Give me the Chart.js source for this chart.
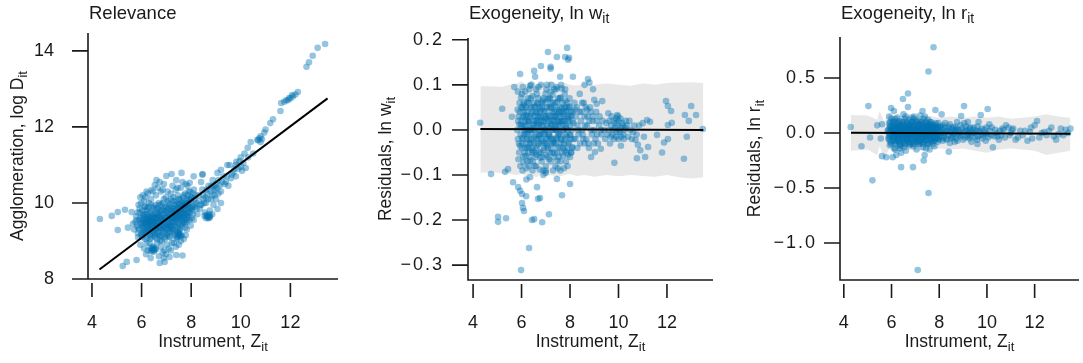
<!DOCTYPE html>
<html>
<head>
<meta charset="utf-8">
<script src="https://cdn.jsdelivr.net/npm/chart.js@4.4.1/dist/chart.umd.min.js"></script>
<style>
  html, body { margin: 0; padding: 0; background: #fff; }
  #wrap { position: relative; width: 1083px; height: 363px; overflow: hidden; }
  canvas { position: absolute; top: 0; }
</style>
</head>
<body>
<div id="wrap">
  <canvas id="c1" width="361" height="363" style="left:0px"></canvas>
  <canvas id="c2" width="361" height="363" style="left:361px"></canvas>
  <canvas id="c3" width="361" height="363" style="left:722px"></canvas>
</div>
<script>
// ---- tick labels ----
const xTicks = [4, 6, 8, 10, 12];
const relevanceTicks = [8, 10, 12, 14];
const wTicks = [-0.3, -0.2, -0.1, 0, 0.1, 0.2];
const rTicks = [-1, -0.5, 0, 0.5];

// ---- panel 1: instrument vs log agglomeration ----
const relevancePoints = [
  [4.32,9.58],[4.8,9.66],[5.04,9.76],[5.33,9.82],[5.6,9.76],[5.04,9.29],[5.24,8.34],[5.4,8.45],[5.8,8.5],
  [6.37,8.55],[6.73,8.42],[6.93,8.45],[7.13,8.58],[7.4,8.63],[7.65,8.62],[5.45,9.35],[5.65,9.45],
  [7.61,10.79],[7.21,10.76],[7.0,10.71],[6.73,10.55],[6.53,10.47],[6.4,10.34],[7.94,10.53],[8.46,10.76],
  [9.06,10.79],[9.46,11.0],[9.82,11.08],[6.2,10.3],[6.9,10.5],[7.4,10.6],[6.6,10.6],[8.1,10.7],
  [9.06,9.84],[8.54,9.66],[8.42,9.95],[8.7,9.65],[8.85,9.7],[8.6,9.6],[8.75,9.8],
  [8.45,10.74],[8.87,10.6],[9.2,10.87],[9.55,11.0],[9.8,11.0],[9.95,11.1],[10.0,11.2],[10.15,11.3],
  [10.28,11.45],[10.4,11.6],[10.67,11.66],[10.75,11.7],[10.8,11.6],[10.95,11.85],[11.0,11.93],[11.19,12.1],
  [11.3,12.2],[11.6,12.42],[11.63,12.63],[11.75,12.66],[11.83,12.7],[11.95,12.76],[12.07,12.84],[12.3,12.92],
  [12.65,13.58],[12.75,13.7],[12.9,13.87],[13.1,14.08],[13.4,14.18],[10.2,10.92],[10.1,11.05],[10.3,11.2],
  [10.5,11.3],[10.0,10.95],[9.9,10.9],[10.8,11.75],[10.7,11.65],[10.85,11.68],[12.1,12.8],[12.0,12.75],
  [12.2,12.85],[11.9,12.7],[9.7,10.8],[9.3,10.7],[9.0,10.5],[9.2,10.3],[9.1,10.25],[8.9,10.35],[8.95,10.2],
  [9.4,10.55],[9.6,10.65],[9.5,10.45],[9.8,10.7],[10.05,10.85],
  [8.3,10.2],[8.35,9.85],[8.5,10.1],[8.6,10.0],[8.65,10.25],[8.7,10.45],[8.8,10.1],[8.9,9.95],[9.0,10.1],
  [9.2,10.0],[8.55,9.75],[8.75,9.62],[8.45,10.35],[8.4,10.55],[8.2,10.0],[8.25,9.7],
  [5.85,9.2],[5.9,9.55],[5.88,9.95],[5.95,8.9],
  [6.02,9.1],[6.05,9.35],[6.0,9.5],[6.08,9.65],[6.03,9.8],[6.1,10.05],[6.07,9.25],[6.12,9.45],
  [6.18,8.65],[6.2,8.95],[6.22,9.2],[6.25,9.35],[6.17,9.5],[6.28,9.6],[6.2,9.7],[6.24,9.85],[6.3,10.0],
  [6.15,10.15],[6.26,9.42],[6.3,9.55],
  [6.38,8.75],[6.42,8.85],[6.35,9.05],[6.45,9.2],[6.4,9.35],[6.48,9.45],[6.36,9.55],[6.44,9.65],[6.4,9.78],
  [6.5,9.9],[6.38,10.1],[6.46,9.5],[6.52,9.3],
  [6.58,8.78],[6.62,8.95],[6.55,9.1],[6.65,9.25],[6.6,9.4],[6.68,9.5],[6.56,9.6],[6.64,9.7],[6.6,9.85],
  [6.7,10.0],[6.58,10.2],[6.66,9.55],[6.72,9.15],
  [6.78,8.85],[6.82,9.0],[6.75,9.12],[6.85,9.3],[6.8,9.45],[6.88,9.55],[6.76,9.65],[6.84,9.8],[6.8,9.95],
  [6.9,10.1],[6.78,10.3],[6.86,9.4],[6.92,8.75],
  [6.98,8.65],[7.02,8.9],[6.95,9.05],[7.05,9.2],[7.0,9.35],[7.08,9.5],[6.96,9.6],[7.04,9.72],[7.0,9.88],
  [7.1,10.0],[6.98,10.15],[7.06,9.42],[7.12,9.12],
  [7.18,8.75],[7.22,8.95],[7.15,9.1],[7.25,9.25],[7.2,9.4],[7.28,9.55],[7.16,9.65],[7.24,9.78],[7.2,9.9],
  [7.3,10.05],[7.18,10.25],[7.26,9.6],[7.32,9.2],
  [7.38,8.85],[7.42,9.05],[7.35,9.15],[7.45,9.35],[7.4,9.5],[7.48,9.62],[7.36,9.72],[7.44,9.85],[7.4,9.98],
  [7.5,10.1],[7.38,10.35],[7.46,9.7],[7.52,9.15],
  [7.58,9.0],[7.62,9.15],[7.55,9.3],[7.65,9.45],[7.6,9.6],[7.68,9.7],[7.56,9.8],[7.64,9.9],[7.6,10.05],
  [7.7,10.2],[7.58,10.4],[7.66,9.75],
  [7.78,9.15],[7.82,9.3],[7.75,9.45],[7.85,9.6],[7.8,9.72],[7.88,9.85],[7.76,9.95],[7.84,10.1],[7.9,10.3],
  [7.78,10.5],[7.98,9.4],[8.02,9.6],[7.95,9.75],[8.05,9.9],[8.0,10.05],[8.08,10.25],[8.1,9.55],
  [5.7,9.3],[5.75,9.5],[5.78,9.65],[5.82,9.4],[5.86,9.1],[5.9,9.3],[5.93,9.75],[5.96,9.45],[5.98,10.0],[6.0,9.2],
  [6.04,9.6],[6.06,9.4],[6.09,9.55],[6.11,9.3],[6.13,9.7],[6.14,9.9],[6.16,9.35],[6.19,9.45],[6.21,9.58],[6.23,9.52],
  [6.27,9.3],[6.29,9.48],[6.31,9.4],[6.33,9.62],[6.34,9.5],[6.37,9.38],[6.39,9.6],[6.41,9.45],[6.43,9.55],[6.46,9.4],
  [6.49,9.62],[6.51,9.52],[6.53,9.45],[6.54,9.7],[6.57,9.35],[6.59,9.5],[6.61,9.62],[6.63,9.42],[6.67,9.35],[6.69,9.68],
  [6.71,9.5],[6.73,9.38],[6.74,9.8],[6.77,9.55],[6.79,9.3],[6.81,9.6],[6.83,9.7],[6.87,9.5],[6.89,9.25],[6.91,9.85],
  [6.94,9.6],[6.97,9.45],[6.99,9.75],[7.01,9.55],[7.03,9.3],[7.06,9.65],[7.09,9.85],[7.11,9.45],[7.13,9.7],[7.14,9.25],
  [7.17,9.55],[7.19,9.8],[7.21,9.62],[7.23,9.35],[7.27,9.72],[7.29,9.85],[7.31,9.5],[7.33,9.65],[7.34,9.95],[7.37,9.58],
  [7.39,9.8],[7.41,9.68],[7.43,9.9],[7.47,9.55],[7.49,9.75],[7.51,9.85],[7.53,9.62],[7.54,9.95],[7.57,9.7],[7.59,9.85],
  [7.61,9.75],[7.63,9.55],[7.67,9.95],[7.69,9.8],[7.71,9.9],[7.73,9.62],[7.74,10.0],[7.77,9.82],[7.79,9.55],[7.81,9.95],
  [7.83,9.68],[7.87,10.0],[7.89,9.75],[7.91,9.9],[7.93,10.1],[7.97,9.85],[7.99,10.15],[8.04,9.8],[8.12,10.1],[8.15,9.9],
  [6.45,8.78],[6.5,8.72],[6.55,8.8],[6.48,8.85],[7.45,9.12],[7.5,9.2],[7.55,9.15],[7.48,9.25],[8.62,9.68],[8.68,9.62],
  [8.72,9.7],[8.3,10.05],[8.38,9.95],[8.48,10.2],[8.52,10.0],[8.58,10.15],[8.63,10.35],[8.68,10.1],[8.78,10.3],[8.82,10.45],
  [8.86,10.2],[8.92,10.45],[8.98,10.35],[9.05,10.4],[9.1,10.6],[9.15,10.45],[9.25,10.55],[9.35,10.5],[9.45,10.7],[9.65,10.75],
  [9.75,10.9],[6.1,8.8],[6.25,8.75],[6.32,8.95],[6.7,8.6],[6.85,8.7],[7.1,8.8],[7.3,8.95],[7.5,8.9],[7.7,9.05],[6.9,8.55],
  [6.05,10.2],[6.25,10.25],[6.45,10.3],[6.65,10.4],[6.85,10.35],[7.05,10.3],[7.25,10.45],[7.45,10.4],[7.65,10.55],[7.85,10.45],
  [5.95,10.15],[6.15,9.05],[6.35,9.15],[6.55,9.2],[6.75,9.0],[6.95,9.2],[7.15,9.3],[7.35,9.4],[7.55,9.45],[7.75,9.35],
  [5.8,9.55],[5.84,9.75],[5.87,9.35],[5.92,9.85],[5.95,9.6],[5.99,9.15],[6.03,9.45],[6.06,9.7],[6.1,9.2],[6.12,9.9],
  [6.15,9.55],[6.18,9.25],[6.2,9.8],[6.23,9.1],[6.26,9.65],[6.28,9.9],[6.31,9.25],[6.33,9.75],[6.36,9.3],[6.38,9.95],
  [6.41,9.1],[6.43,9.7],[6.46,9.25],[6.48,9.85],[6.51,9.15],[6.53,9.6],[6.56,9.95],[6.58,9.3],[6.61,9.75],[6.63,9.05],
  [6.66,9.85],[6.68,9.2],[6.71,9.65],[6.73,9.95],[6.76,9.35],[6.78,9.8],[6.81,9.15],[6.83,9.55],[6.86,10.0],[6.88,9.35],
  [6.91,9.7],[6.93,9.1],[6.96,9.9],[6.98,9.4],[7.01,9.8],[7.03,9.15],[7.06,10.05],[7.08,9.35],[7.11,9.6],[7.13,9.95],
  [7.16,9.4],[7.18,10.1],[7.21,9.5],[7.23,9.85],[7.26,9.3],[7.28,10.15],[7.31,9.7],[7.33,9.4],[7.36,10.05],[7.38,9.6],
  [7.41,9.25],[7.43,9.75],[7.46,10.2],[7.48,9.45],[7.51,9.95],[7.53,9.3],[7.56,10.1],[7.58,9.65],[7.61,9.4],[7.63,10.0],
  [7.66,9.6],[7.68,10.15],[7.71,9.5],[7.73,9.85],[7.76,10.25],[7.78,9.7],[7.81,10.05],[7.83,9.5],[7.86,10.2],[7.88,9.65],
  [7.91,10.0],[7.93,9.55],[7.96,10.3],[8.0,9.85],[8.03,10.15],[8.07,9.7],[8.11,10.35],[8.14,9.95],[8.18,10.2],[8.22,9.85],
  [6.42,8.72],[6.52,8.76],[6.47,8.8],[7.42,9.1],[7.52,9.18],[7.58,9.12],[8.64,9.65],[8.7,9.6],[8.76,9.66],[6.35,8.8]
];
const relevanceFit = [[4.3,8.25],[13.5,12.75]];

// ---- panel 2: residuals ln w ----
const wPoints = [
  [4.29,0.016],[7.88,0.182],[7.09,0.173],[7.46,0.162],[7.8,0.162],[7.96,0.16],[7.92,0.156],[6.8,0.142],
  [7.2,0.14],[7.2,0.136],[6.52,0.131],[5.94,0.124],[6.56,0.118],[7.59,0.118],[8.12,0.118],
  [4.74,-0.098],[5.32,-0.093],[5.44,-0.087],[5.65,-0.116],[5.86,-0.127],[5.94,-0.135],[6.02,-0.142],
  [6.19,-0.147],[6.02,-0.162],[6.06,-0.173],[6.1,-0.18],[6.76,-0.151],[6.68,-0.153],[7.13,-0.187],
  [5.03,-0.193],[5.03,-0.204],[5.36,-0.196],[6.43,-0.2],[6.52,-0.198],[6.85,-0.205],[6.31,-0.262],
  [5.98,-0.311],[7.67,-0.145],[8.0,-0.12],[7.46,-0.109],[6.64,-0.127],[5.2,0.047],[5.6,0.029],
  [5.7,0.095],[5.85,0.085],[6.2,-0.11],[6.35,-0.105],[6.9,-0.1],[7.0,-0.09],[7.6,-0.09],[7.75,-0.085],
  [8.0,-0.06],[8.05,-0.05],
  [8.74,0.113],[11.96,0.064],[12.04,0.053],[12.17,0.042],[13.0,0.053],[12.74,0.033],[12.9,0.02],
  [13.2,0.033],[13.48,0.002],[12.82,-0.015],[12.7,-0.064],[11.8,-0.05],[11.88,-0.028],[12.04,-0.02],
  [12.2,0.016],[12.04,0.011],[11.59,-0.011],[11.3,0.018],[11.18,0.022],[11.0,0.015],[11.22,-0.038],
  [11.1,-0.06],[10.76,-0.063],[10.9,-0.045],[10.8,-0.033],[10.7,-0.022],[11.05,-0.015],[9.83,-0.073],
  [9.27,-0.042],[8.87,-0.06],[9.03,-0.049],[9.95,0.033],[9.58,0.037],[9.33,0.064],[9.0,0.067],[9.1,0.058],
  [8.6,0.1],[8.8,0.105],[8.95,0.09],[8.4,0.08],
  [8.25,0.03],[8.3,0.01],[8.35,-0.01],[8.4,0.04],[8.45,0.02],[8.5,0.0],[8.55,-0.02],[8.6,0.03],[8.65,0.05],
  [8.7,0.01],[8.75,-0.03],[8.8,0.02],[8.85,0.04],[8.9,-0.01],[8.95,0.03],[9.0,0.0],[9.05,-0.02],[9.1,0.02],
  [9.2,0.01],[9.3,-0.01],[9.4,0.0],[8.5,0.06],[8.3,-0.04],[8.6,-0.03],[8.7,0.045],[9.15,-0.03],[9.5,0.015],
  [9.6,0.0],[9.7,0.01],[9.75,-0.01],[9.8,0.02],[9.85,0.005],[9.9,-0.015],[9.95,0.01],[10.0,0.02],
  [10.05,-0.005],[10.1,0.005],[10.15,0.015],[10.2,-0.01],[10.25,0.0],[10.3,0.02],[9.9,0.025],[10.0,-0.02],
  [10.4,-0.015],[10.5,0.0],[10.6,-0.005],[10.85,0.01],[9.65,-0.03],[10.1,-0.035],
  [5.82,0.0],[5.85,-0.02],[5.88,0.03],[5.9,-0.05],[5.92,0.06],[5.95,-0.08],[5.97,0.01],
  [6.0,0.02],[6.03,-0.03],[6.05,0.05],[6.07,-0.06],[6.1,0.0],[6.02,0.08],[6.12,-0.01],[6.08,0.04],
  [6.15,-0.04],[6.04,-0.09],
  [6.2,0.01],[6.22,-0.02],[6.25,0.03],[6.27,-0.05],[6.3,0.06],[6.23,-0.07],[6.28,0.0],[6.32,0.09],
  [6.18,0.05],[6.35,-0.03],[6.26,0.02],
  [6.4,0.0],[6.42,-0.04],[6.45,0.04],[6.38,0.07],[6.47,-0.07],[6.5,0.02],[6.43,-0.01],[6.52,-0.05],
  [6.4,0.1],[6.55,0.05],[6.48,0.0],
  [6.6,-0.02],[6.62,0.01],[6.65,0.06],[6.58,-0.06],[6.67,0.03],[6.7,-0.03],[6.63,0.08],[6.72,0.0],
  [6.6,-0.08],[6.75,0.05],[6.68,-0.01],
  [6.8,0.02],[6.82,-0.02],[6.85,0.05],[6.78,-0.05],[6.87,0.0],[6.9,0.07],[6.83,-0.07],[6.92,0.03],
  [6.8,0.1],[6.95,-0.03],[6.88,0.01],
  [7.0,0.0],[7.02,0.03],[7.05,-0.03],[6.98,0.06],[7.07,-0.06],[7.1,0.02],[7.03,0.09],[7.12,-0.01],
  [7.0,-0.08],[7.15,0.05],[7.08,-0.02],
  [7.2,0.01],[7.22,-0.02],[7.25,0.04],[7.18,0.07],[7.27,-0.05],[7.3,0.0],[7.23,0.1],[7.32,0.03],
  [7.2,-0.07],[7.35,-0.03],[7.28,0.02],
  [7.4,0.0],[7.42,0.03],[7.45,-0.02],[7.38,0.06],[7.47,-0.05],[7.5,0.01],[7.43,0.09],[7.52,-0.01],
  [7.4,-0.08],[7.55,0.04],[7.48,0.02],
  [7.6,0.01],[7.62,-0.02],[7.65,0.04],[7.58,0.07],[7.67,-0.05],[7.7,0.0],[7.63,0.1],[7.72,0.02],
  [7.6,-0.07],[7.75,-0.03],
  [7.8,0.02],[7.82,-0.01],[7.85,0.05],[7.78,0.08],[7.87,-0.04],[7.9,0.0],[7.83,-0.07],[7.92,0.03],
  [8.0,0.01],[8.03,-0.02],[8.05,0.04],[7.98,0.07],[8.08,-0.04],[8.1,0.02],
  [5.86,0.02],[5.89,-0.03],[5.93,0.04],[5.96,-0.01],[5.99,0.05],[6.01,-0.04],[6.03,0.01],[6.06,-0.02],[6.09,0.06],[6.11,0.03],
  [6.13,-0.05],[6.14,0.02],[6.16,0.0],[6.19,-0.03],[6.21,0.04],[6.24,-0.01],[6.26,0.07],[6.29,-0.04],[6.31,0.02],[6.33,-0.06],
  [6.34,0.0],[6.36,0.03],[6.39,-0.02],[6.41,0.05],[6.44,-0.05],[6.46,0.01],[6.49,0.06],[6.51,-0.03],[6.53,0.03],[6.54,-0.08],
  [6.57,0.0],[6.59,0.04],[6.61,-0.04],[6.64,0.02],[6.66,-0.02],[6.69,0.07],[6.71,0.01],[6.73,-0.05],[6.74,0.04],[6.77,-0.01],
  [6.79,0.03],[6.81,-0.03],[6.84,0.06],[6.86,-0.06],[6.89,0.02],[6.91,-0.01],[6.93,0.04],[6.94,-0.04],[6.97,0.0],[6.99,0.08],
  [7.01,-0.02],[7.04,0.05],[7.06,0.01],[7.09,-0.04],[7.11,0.03],[7.13,-0.01],[7.14,0.07],[7.16,-0.05],[7.19,0.02],[7.21,0.05],
  [7.24,-0.03],[7.26,0.0],[7.29,0.06],[7.31,-0.02],[7.33,0.04],[7.34,-0.06],[7.36,0.01],[7.39,0.03],[7.41,-0.03],[7.44,0.05],
  [7.46,0.0],[7.49,-0.04],[7.51,0.07],[7.53,0.02],[7.54,-0.06],[7.56,0.04],[7.59,-0.01],[7.61,0.05],[7.64,-0.03],[7.66,0.02],
  [7.69,0.06],[7.71,-0.04],[7.73,0.03],[7.74,0.0],[7.77,0.05],[7.79,-0.02],[7.81,0.04],[7.84,0.01],[7.86,-0.05],[7.89,0.06],
  [7.91,-0.03],[7.94,0.02],[7.96,0.05],[7.99,-0.01],[8.01,0.03],[8.04,-0.05],[8.07,0.0],[8.12,0.04],[8.15,-0.02],[8.18,0.06],
  [6.3,-0.08],[6.6,0.09],[6.9,-0.09],[7.2,0.085],[7.5,-0.085],[7.8,0.09],[6.15,0.085],[6.45,-0.09],[7.05,0.1],[7.35,0.09],
  [8.28,0.05],[8.33,0.0],[8.42,-0.03],[8.47,0.04],[8.52,-0.01],[8.57,0.06],[8.62,0.01],[8.67,-0.02],[8.72,0.03],[8.78,-0.04],
  [8.83,0.05],[8.88,0.0],[8.93,0.02],[8.98,-0.03],[9.08,0.04],[9.12,-0.01],[9.22,0.03],[9.28,0.0],[9.35,0.02],[9.45,-0.02],
  [9.55,-0.01],[9.62,0.02],[9.68,-0.015],[9.72,0.03],[9.78,0.0],[9.82,-0.02],[9.88,0.015],[9.92,-0.005],[9.98,0.03],[10.02,0.0],
  [10.08,0.025],[10.12,-0.015],[10.18,0.01],[10.22,-0.02],[10.28,0.005],[10.35,0.01],[10.45,0.02],[10.55,-0.02],[10.65,0.01],[10.75,-0.01],
  [5.84,0.045],[5.87,-0.065],[5.91,0.012],[5.94,-0.035],[5.98,0.072],[6.02,-0.018],[6.05,0.028],[6.08,-0.072],[6.1,0.055],[6.13,0.008],
  [6.16,-0.058],[6.18,0.033],[6.2,-0.008],[6.23,0.062],[6.25,-0.038],[6.28,0.018],[6.3,-0.022],[6.33,0.048],[6.36,-0.068],[6.38,0.005],
  [6.4,0.035],[6.43,-0.028],[6.45,0.075],[6.48,-0.045],[6.5,0.012],[6.53,-0.015],[6.56,0.052],[6.58,0.022],[6.61,-0.055],[6.63,0.038],
  [6.66,-0.035],[6.68,0.015],[6.7,0.058],[6.73,-0.012],[6.76,0.028],[6.78,-0.062],[6.81,0.045],[6.83,0.008],[6.86,-0.025],[6.88,0.065],
  [6.9,-0.045],[6.93,0.018],[6.96,-0.008],[6.98,0.042],[7.01,-0.055],[7.03,0.025],[7.06,-0.035],[7.08,0.068],[7.11,0.005],[7.13,-0.065],
  [7.16,0.032],[7.18,-0.015],[7.21,0.055],[7.23,-0.042],[7.26,0.012],[7.28,0.078],[7.31,-0.028],[7.33,0.022],[7.36,-0.052],[7.38,0.045],
  [7.41,0.008],[7.43,-0.018],[7.46,0.062],[7.48,-0.068],[7.51,0.035],[7.53,-0.008],[7.56,0.018],[7.58,-0.038],[7.61,0.072],[7.63,0.028],
  [7.66,-0.022],[7.68,0.048],[7.71,-0.058],[7.73,0.012],[7.76,0.035],[7.78,-0.045],[7.81,0.065],[7.83,0.005],[7.86,-0.015],[7.88,0.042],
  [7.91,-0.055],[7.93,0.025],[7.96,-0.028],[7.98,0.052],[8.02,-0.012],[8.06,0.032],[8.1,-0.038],[8.14,0.015],[8.2,0.045],[8.22,-0.02],
  [6.05,0.095],[6.35,0.098],[6.7,0.095],[7.0,-0.095],[7.3,-0.09],[7.65,0.092],[7.9,-0.08],[6.2,-0.085],[6.75,-0.088],[7.45,0.095]
];
const wFit = [[4.3,0.002],[13.5,0.0]];
const wBandUpper = [[4.3,0.097],[4.8,0.097],[5.2,0.095],[5.5,0.1],[5.8,0.103],[6.0,0.108],[6.2,0.1],[6.4,0.11],
  [6.6,0.102],[6.8,0.105],[7.0,0.1],[7.2,0.108],[7.5,0.1],[7.8,0.104],[8.0,0.1],[8.3,0.098],[8.6,0.104],
  [9.0,0.1],[9.5,0.103],[10.0,0.1],[10.5,0.098],[11.0,0.103],[11.5,0.1],[12.0,0.104],[12.5,0.105],
  [13.0,0.106],[13.5,0.104]];
const wBandLower = [[4.3,-0.095],[4.8,-0.094],[5.2,-0.096],[5.5,-0.098],[5.8,-0.1],[6.0,-0.097],[6.2,-0.103],
  [6.4,-0.1],[6.6,-0.105],[6.8,-0.099],[7.0,-0.103],[7.2,-0.1],[7.5,-0.104],[7.8,-0.1],[8.0,-0.098],
  [8.3,-0.102],[8.6,-0.1],[9.0,-0.104],[9.5,-0.1],[10.0,-0.103],[10.5,-0.1],[11.0,-0.102],[11.5,-0.104],
  [12.0,-0.1],[12.5,-0.105],[13.0,-0.108],[13.5,-0.105]];

// ---- panel 3: residuals ln r ----
const rPoints = [
  [7.76,0.78],[7.55,0.56],[7.55,-0.545],[7.1,-1.245],[5.2,-0.43],[6.69,0.36],[6.48,0.31],[5.03,0.245],
  [5.98,0.227],[6.69,0.236],[7.84,0.21],[9.04,0.245],[10.03,0.218],[9.74,0.164],[8.92,0.155],[6.4,-0.31],
  [6.9,-0.31],[5.78,-0.22],[5.6,-0.21],[6.05,-0.22],[7.39,-0.2],[7.35,-0.25],[4.74,-0.12],[4.29,0.055],
  [5.4,0.07],[5.1,-0.04],[5.55,-0.05],[5.6,0.08],[6.2,-0.2],[6.4,-0.18],[7.3,0.2],[7.2,0.16],[6.1,0.2],
  [7.6,-0.15],[7.8,-0.12],[5.9,0.15],[6.5,0.17],[8.1,0.17],[8.4,-0.17],[10.25,-0.13],[9.2,0.1],[9.6,-0.1],
  [12.1,0.11],[12.0,0.07],[11.1,0.04],[13.1,0.04],[13.5,0.04],[13.3,0.03],[12.8,-0.03],[12.9,-0.06],
  [11.7,-0.07],[11.9,-0.05],[10.8,0.07],[10.9,0.05],[11.4,0.02],[11.5,-0.02],[11.2,-0.06],[12.3,0.0],
  [12.5,-0.02],[11.8,0.01],[10.6,-0.02],[10.7,0.03],[10.4,0.0],[10.5,-0.06],[10.2,0.05],[10.3,-0.03],
  [11.0,0.0],[12.2,-0.04],[12.6,0.02],[13.0,-0.01],
  [8.1,0.05],[8.2,-0.03],[8.3,0.02],[8.4,0.06],[8.5,-0.05],[8.6,0.0],[8.7,0.04],[8.8,-0.02],[8.9,0.07],
  [9.0,-0.06],[9.1,0.02],[9.2,-0.03],[9.3,0.05],[9.4,0.0],[9.5,-0.04],[9.6,0.06],[9.7,0.02],[9.8,-0.05],
  [9.9,0.03],[10.0,-0.01],[10.1,0.08],[8.25,0.09],[8.45,-0.09],[8.75,0.1],[9.05,0.09],[9.35,-0.08],
  [9.65,0.1],[9.95,-0.07],[8.55,0.03],[9.25,0.01],[9.75,-0.02],[8.15,-0.07],[8.65,-0.08],
  [5.88,0.0],[5.92,0.05],[5.9,-0.06],[5.95,0.1],[5.93,-0.11],[5.97,0.02],
  [6.08,0.0],[6.12,0.05],[6.1,-0.05],[6.05,0.1],[6.14,-0.1],[6.1,0.02],[6.07,-0.02],[6.15,0.13],[6.12,-0.14],
  [6.28,0.0],[6.32,0.05],[6.3,-0.05],[6.25,0.1],[6.34,-0.1],[6.3,0.02],[6.27,-0.02],[6.35,0.08],[6.32,-0.08],
  [6.48,0.0],[6.52,0.05],[6.5,-0.05],[6.45,0.1],[6.54,-0.1],[6.5,0.02],[6.47,-0.02],[6.55,0.13],[6.52,-0.13],
  [6.68,0.0],[6.72,0.05],[6.7,-0.05],[6.65,0.1],[6.74,-0.1],[6.7,0.02],[6.67,-0.02],[6.75,0.08],[6.72,-0.08],
  [6.88,0.0],[6.92,0.05],[6.9,-0.05],[6.85,0.1],[6.94,-0.1],[6.9,0.02],[6.87,-0.02],[6.95,0.13],[6.92,-0.12],
  [7.08,0.0],[7.12,0.05],[7.1,-0.05],[7.05,0.1],[7.14,-0.1],[7.1,0.02],[7.07,-0.02],[7.15,0.08],[7.12,-0.08],
  [7.28,0.0],[7.32,0.05],[7.3,-0.05],[7.25,0.1],[7.34,-0.1],[7.3,0.02],[7.27,-0.02],[7.35,0.13],[7.32,-0.13],
  [7.48,0.0],[7.52,0.05],[7.5,-0.05],[7.45,0.1],[7.54,-0.1],[7.5,0.02],[7.47,-0.02],[7.55,0.08],
  [7.68,0.0],[7.72,0.05],[7.7,-0.05],[7.65,0.1],[7.74,-0.1],[7.7,0.02],[7.67,-0.02],
  [7.88,0.0],[7.92,0.05],[7.9,-0.05],[7.85,0.09],[7.94,-0.08],[8.0,0.02],
  [5.87,0.03],[5.9,-0.03],[5.94,0.07],[5.96,-0.08],[5.99,0.04],[6.01,-0.01],[6.03,0.06],[6.06,-0.04],[6.09,0.01],[6.11,0.08],
  [6.13,-0.07],[6.16,0.03],[6.19,-0.03],[6.21,0.06],[6.23,-0.06],[6.26,0.0],[6.29,0.04],[6.31,-0.03],[6.33,0.11],[6.36,-0.11],
  [6.38,0.03],[6.41,-0.01],[6.43,0.06],[6.46,-0.06],[6.49,0.01],[6.51,0.08],[6.53,-0.08],[6.56,0.03],[6.59,-0.03],[6.61,0.06],
  [6.63,-0.06],[6.66,0.0],[6.69,0.04],[6.71,-0.03],[6.73,0.12],[6.76,-0.11],[6.78,0.03],[6.81,-0.01],[6.83,0.06],[6.86,-0.06],
  [6.89,0.01],[6.91,0.08],[6.93,-0.08],[6.96,0.03],[6.99,-0.03],[7.01,0.06],[7.03,-0.06],[7.06,0.0],[7.09,0.04],[7.11,-0.03],
  [7.13,0.11],[7.16,-0.1],[7.18,0.03],[7.21,-0.01],[7.23,0.06],[7.26,-0.06],[7.29,0.01],[7.31,0.08],[7.33,-0.08],[7.36,0.03],
  [7.39,-0.03],[7.41,0.06],[7.43,-0.06],[7.46,0.0],[7.49,0.04],[7.51,-0.03],[7.53,0.12],[7.56,-0.09],[7.58,0.03],[7.61,-0.01],
  [7.63,0.06],[7.66,-0.06],[7.69,0.01],[7.71,0.07],[7.73,-0.07],[7.76,0.03],[7.79,-0.03],[7.81,0.05],[7.83,-0.05],[7.86,0.0],
  [7.89,0.03],[7.91,-0.02],[7.96,0.06],[7.98,-0.06],[8.03,0.01],[6.2,0.0],[6.4,0.01],[6.6,-0.01],[6.8,0.0],[7.0,0.01],
  [7.2,-0.01],[7.4,0.0],[7.6,0.01],[6.0,0.13],[6.25,0.14],[6.6,0.15],[6.95,0.15],[7.4,0.15],[6.15,-0.15],[6.6,-0.16],
  [7.05,-0.15],[7.45,-0.14],[6.35,-0.14],[6.85,0.14],
  [8.05,-0.03],[8.12,0.03],[8.18,0.0],[8.22,0.05],[8.28,-0.05],[8.35,0.02],[8.38,-0.02],[8.42,0.04],[8.48,0.01],[8.52,-0.03],
  [8.58,0.05],[8.62,-0.01],[8.68,0.02],[8.72,-0.05],[8.78,0.03],[8.82,0.0],[8.88,-0.03],[8.95,0.04],[9.02,0.01],[9.08,-0.04],
  [9.15,0.03],[9.22,-0.01],[9.28,0.04],[9.32,-0.03],[9.42,0.03],[9.48,0.0],[9.55,0.02],[9.62,-0.03],[9.68,0.01],[9.78,0.04],
  [9.85,-0.02],[9.92,0.0],[9.98,0.05],[10.05,-0.04],[10.12,0.02],[10.18,-0.02],[10.35,0.03],[10.45,-0.03],[10.55,0.02],[10.65,0.04],
  [10.75,-0.04],[10.95,-0.02],[11.05,0.03],[11.3,-0.04],[11.6,0.02],[12.4,0.01],[12.7,0.05],[13.2,-0.02],[13.4,0.0],[11.85,0.05],
  [5.84,0.02],[5.87,-0.05],[5.91,0.09],[5.94,-0.02],[5.98,-0.1],[6.02,0.05],[6.05,-0.07],[6.08,0.03],[6.1,0.11],[6.13,-0.03],
  [6.16,0.07],[6.18,-0.09],[6.2,0.04],[6.23,-0.01],[6.25,0.09],[6.28,-0.07],[6.3,0.06],[6.33,-0.04],[6.36,0.02],[6.38,-0.12],
  [6.4,0.07],[6.43,-0.02],[6.45,0.04],[6.48,-0.08],[6.5,0.1],[6.53,0.0],[6.56,-0.05],[6.58,0.07],[6.61,-0.1],[6.63,0.02],
  [6.66,0.09],[6.68,-0.06],[6.7,0.05],[6.73,-0.02],[6.76,0.07],[6.78,-0.08],[6.81,0.03],[6.83,-0.04],[6.86,0.1],[6.88,-0.1],
  [6.9,0.06],[6.93,-0.01],[6.96,0.08],[6.98,-0.06],[7.01,0.03],[7.03,0.11],[7.06,-0.08],[7.08,0.05],[7.11,-0.05],[7.13,0.02],
  [7.16,0.08],[7.18,-0.07],[7.21,0.04],[7.23,-0.02],[7.26,0.1],[7.28,-0.09],[7.31,0.05],[7.33,-0.04],[7.36,0.07],[7.38,0.0],
  [7.41,-0.07],[7.43,0.09],[7.46,-0.03],[7.48,0.06],[7.51,-0.1],[7.53,0.03],[7.56,0.07],[7.58,-0.05],[7.61,0.1],[7.63,-0.02],
  [7.66,0.04],[7.68,-0.08],[7.71,0.02],[7.73,0.08],[7.76,-0.04],[7.78,0.06],[7.81,-0.07],[7.83,0.01],[7.86,0.07],[7.88,-0.05],
  [7.91,0.04],[7.93,-0.02],[7.96,0.09],[8.0,-0.04],[8.04,0.06],[8.08,0.0],[8.13,-0.05],[8.16,0.07],[8.26,0.0],[8.32,-0.06],
  [8.44,0.08],[8.56,-0.04],[8.66,0.06],[8.76,-0.07],[8.86,0.02],[8.97,-0.02],[9.12,0.06],[9.26,-0.05],[9.45,0.05],[9.58,-0.06]
];
const rFit = [[4.3,0.003],[13.5,-0.006]];
const rBandUpper = [[4.3,0.165],[5.0,0.16],[5.4,0.12],[5.5,0.2],[5.7,0.1],[5.9,0.18],[6.2,0.15],[6.6,0.16],
  [7.0,0.15],[7.5,0.16],[8.0,0.14],[8.5,0.15],[9.0,0.14],[9.5,0.15],[10.0,0.14],[10.5,0.15],[11.0,0.13],
  [11.5,0.14],[12.0,0.15],[12.5,0.17],[13.0,0.15],[13.5,0.14]];
const rBandLower = [[4.3,-0.16],[5.0,-0.15],[5.4,-0.2],[5.5,-0.12],[5.7,-0.23],[5.9,-0.15],[6.2,-0.17],
  [6.6,-0.15],[7.0,-0.16],[7.5,-0.15],[8.0,-0.14],[8.5,-0.15],[9.0,-0.14],[9.5,-0.16],[10.0,-0.18],
  [10.5,-0.15],[11.0,-0.14],[11.5,-0.15],[12.0,-0.16],[12.5,-0.2],[13.0,-0.18],[13.5,-0.16]];

const FONT = "'Liberation Sans', Arial, sans-serif";
const FS = 17.5;      // axis titles
const TICK_FS = 18;   // tick labels
const MAIN_FS = 18.5; // panel titles
const INK = '#1a1a1a';
const DOT = 'rgba(0, 114, 178, 0.42)';
const BAND = '#e8e8e8';

const xy = arr => arr.map(p => ({ x: p[0], y: p[1] }));

// text made of plain and subscript pieces
function drawRich(ctx, parts, x, y, align, size) {
    const fontFor = p => (p.sub ? size * 0.75 : size) + 'px ' + FONT;
    let w = 0;
    parts.forEach(p => { ctx.font = fontFor(p); w += ctx.measureText(p.t).width; });
    let cx = align === 'center' ? x - w / 2 : x;
    ctx.textAlign = 'left';
    ctx.textBaseline = 'middle';
    parts.forEach(p => {
        ctx.font = fontFor(p);
        ctx.fillText(p.t, cx, p.sub ? y + 5 : y);
        cx += ctx.measureText(p.t).width;
    });
}

function fmt(v) {
    if (Math.abs(v) < 1e-9) return '0.0';
    return v.toFixed(1).replace('-', '\u2212');
}

// axes, ticks and titles drawn in R style; kept in a closure so
// Chart.js does not treat the formatter as a scriptable option
function framePlugin(cfg) {
    return {
        id: 'frame',
        afterDraw(chart) {
            const { ctx, chartArea: a, scales } = chart;
            ctx.save();
            ctx.strokeStyle = INK;
            ctx.lineWidth = 1.6;
            ctx.beginPath();
            ctx.moveTo(a.left, a.top);
            ctx.lineTo(a.left, a.bottom);
            ctx.lineTo(a.right, a.bottom);
            cfg.yTicks.forEach(v => {
                const py = scales.y.getPixelForValue(v);
                ctx.moveTo(a.left - 16, py);
                ctx.lineTo(a.left, py);
            });
            // x ticks hang below the frame
            xTicks.forEach(v => {
                const px = scales.x.getPixelForValue(v);
                ctx.moveTo(px, a.bottom + 4);
                ctx.lineTo(px, a.bottom + 18);
            });
            ctx.stroke();

            ctx.fillStyle = INK;
            ctx.font = TICK_FS + 'px ' + FONT;
            ctx.textBaseline = 'middle';
            ctx.textAlign = 'right';
            ctx.letterSpacing = cfg.spacing + 'px';
            cfg.yTicks.forEach(v => {
                ctx.fillText(cfg.yFmt(v), a.left - cfg.yPad + cfg.spacing, scales.y.getPixelForValue(v));
            });
            ctx.letterSpacing = '0px';
            ctx.textAlign = 'center';
            xTicks.forEach(v => {
                ctx.fillText(String(v), scales.x.getPixelForValue(v), 323);
            });

            drawRich(ctx, cfg.title, a.left + 1, 14, 'left', MAIN_FS);
            drawRich(ctx, [{ t: 'Instrument, Z' }, { t: 'it', sub: true }], (a.left + a.right) / 2, 342, 'center', FS);
            ctx.translate(cfg.yTitleX, (a.top + a.bottom) / 2);
            ctx.rotate(-Math.PI / 2);
            drawRich(ctx, cfg.yTitle, 0, 0, 'center', FS);
            ctx.restore();
        }
    };
}

function makePanel(id, cfg) {
    const datasets = [
        { type: 'line', data: xy(cfg.fit), borderColor: '#000', borderWidth: 2, pointRadius: 0, order: 0 },
        { type: 'scatter', data: xy(cfg.points), backgroundColor: DOT, borderWidth: 0, pointRadius: 3.3, order: 1 }
    ];
    if (cfg.upper) {
        datasets.push({ type: 'line', data: xy(cfg.upper), fill: '+1', backgroundColor: BAND,
            borderWidth: 0, pointRadius: 0, tension: 0, order: 2 });
        datasets.push({ type: 'line', data: xy(cfg.lower), fill: false,
            borderWidth: 0, pointRadius: 0, tension: 0, order: 3 });
    }

    return new Chart(document.getElementById(id), {
        type: 'scatter',
        data: { datasets },
        options: {
            responsive: false,
            animation: false,
            devicePixelRatio: 1,
            layout: { padding: { top: cfg.top, right: cfg.right, bottom: 0, left: 0 } },
            plugins: {
                legend: { display: false },
                tooltip: { enabled: false }
            },
            scales: {
                x: {
                    type: 'linear', position: 'bottom',
                    min: cfg.xMin, max: cfg.xMax,
                    afterBuildTicks: s => { s.ticks = xTicks.map(v => ({ value: v })); },
                    afterFit: s => {
                        s.height = 363 - cfg.bottom;
                        s.paddingLeft = 0; s.paddingRight = 0;
                    },
                    grid: { display: false, drawTicks: false },
                    border: { display: false },
                    ticks: { display: false }
                },
                y: {
                    type: 'linear', position: 'left',
                    min: cfg.yMin, max: cfg.yMax,
                    afterBuildTicks: s => { s.ticks = cfg.yTicks.map(v => ({ value: v })); },
                    afterFit: s => {
                        s.width = cfg.left;
                        s.paddingTop = 0; s.paddingBottom = 0;
                    },
                    grid: { display: false, drawTicks: false },
                    border: { display: false },
                    ticks: { display: false }
                }
            }
        },
        plugins: [framePlugin(cfg)]
    });
}

makePanel('c1', {
    points: relevancePoints, fit: relevanceFit,
    xMin: 3.84, xMax: 13.92, yMin: 8, yMax: 14.47,
    top: 33, bottom: 279, left: 88, right: 23, yPad: 34, spacing: 0,
    yTicks: relevanceTicks, yFmt: v => String(v),
    title: [{ t: 'Relevance' }],
    yTitle: [{ t: 'Agglomeration, log D' }, { t: 'it', sub: true }], yTitleX: 18
});

makePanel('c2', {
    points: wPoints, fit: wFit, upper: wBandUpper, lower: wBandLower,
    xMin: 3.79, xMax: 13.9, yMin: -0.333, yMax: 0.204,
    top: 38, bottom: 280, left: 107, right: 9, yPad: 26, spacing: 2,
    yTicks: wTicks, yFmt: fmt,
    title: [{ t: 'Exogeneity, ln w' }, { t: 'it', sub: true }],
    yTitle: [{ t: 'Residuals, ln w' }, { t: 'it', sub: true }], yTitleX: 25
});

makePanel('c3', {
    points: rPoints, fit: rFit, upper: rBandUpper, lower: rBandLower,
    xMin: 3.84, xMax: 13.86, yMin: -1.336, yMax: 0.873,
    top: 37, bottom: 280, left: 118, right: 0, yPad: 25, spacing: 2,
    yTicks: rTicks, yFmt: fmt,
    title: [{ t: 'Exogeneity, ln r' }, { t: 'it', sub: true }],
    yTitle: [{ t: 'Residuals, ln r' }, { t: 'it', sub: true }], yTitleX: 33
});
</script>
</body>
</html>
